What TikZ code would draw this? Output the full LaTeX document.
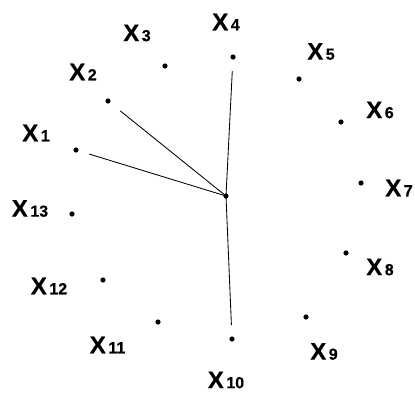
\documentclass[tikz,border=0pt]{standalone}
\usepackage{fontspec}
\setmainfont{Liberation Sans}[FakeBold=0.35]
\newcommand{\lbl}[1]{{\bfseries\fontsize{24}{24}\selectfont X}\hspace{2.5pt}{\bfseries\fontsize{16}{16}\selectfont #1}}
\tikzset{
  pt/.style={circle, fill=black, inner sep=0pt, minimum size=5.2pt},
  lab/.style={inner sep=0pt, anchor=center},
  edge/.style={line width=0.85pt, shorten >=11pt}
}
\begin{document}
\begin{tikzpicture}[x=1pt, y=-1pt]
\useasboundingbox[fill=white] (0,0) rectangle (415,394);
\node[pt] (c) at (226,196) {};
\node[pt] (p1) at (76,150) {};
\node[pt] (p2) at (108,101) {};
\node[pt] (p3) at (165,66) {};
\node[pt] (p4) at (233,57) {};
\node[pt] (p5) at (299,79) {};
\node[pt] (p6) at (341,122) {};
\node[pt] (p7) at (361,183) {};
\node[pt] (p8) at (346,253) {};
\node[pt] (p9) at (306,317) {};
\node[pt] (p10) at (232,339) {};
\node[pt] (p11) at (158,322) {};
\node[pt] (p12) at (103,280) {};
\node[pt] (p13) at (72,214) {};
\node[lab] (l1) at (36,133) {\lbl{1}};
\node[lab] (l2) at (83,72) {\lbl{2}};
\node[lab] (l3) at (137,33) {\lbl{3}};
\node[lab] (l4) at (226,22) {\lbl{4}};
\node[lab] (l5) at (321,51.5) {\lbl{5}};
\node[lab] (l6) at (380,110) {\lbl{6}};
\node[lab] (l7) at (399,188) {\lbl{7}};
\node[lab] (l8) at (380,267) {\lbl{8}};
\node[lab] (l9) at (324,351.5) {\lbl{9}};
\node[lab] (l10) at (226,380) {\lbl{10}};
\node[lab] (l11) at (107.5,345) {\lbl{11}};
\node[lab] (l12) at (49,286) {\lbl{12}};
\node[lab] (l13) at (30,208.5) {\lbl{13}};
\draw[edge] (c.center) -- (p1);
\draw[edge, shorten >=13pt] (c.center) -- (p2);
\draw[edge] (c.center) -- (p4);
\draw[edge] (c.center) -- (p10);
\end{tikzpicture}
\end{document}
